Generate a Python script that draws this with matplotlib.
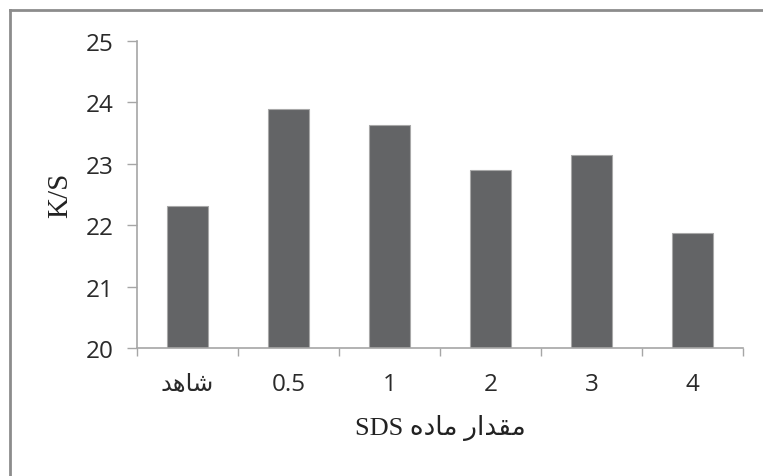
import matplotlib
matplotlib.use("Agg")
import matplotlib.pyplot as plt
from matplotlib.lines import Line2D
import numpy as np

# Data
categories = ["ﺪﻫﺎﺷ", "0.5", "1", "2", "3", "4"]   # شاهد (pre-shaped for display)
values = [22.32, 23.89, 23.64, 22.90, 23.15, 21.88]
yticks = [20, 21, 22, 23, 24, 25]
ylabel = "K/S"
xlabel = "SDS ﻩﺩﺎﻣ ﺭﺍﺪﻘﻣ"   # مقدار ماده SDS (visual order)

W, H = 763, 477
fig = plt.figure(figsize=(W / 100, H / 100), dpi=100)
ax = fig.add_axes([137 / W, 1 - 349 / H, (743 - 137) / W, (349 - 42) / H])

x = np.arange(len(categories))
ax.bar(x, np.array(values) - 20, bottom=20, width=0.4, color="#636466",
       edgecolor="#a8a8a8", linewidth=0.8, zorder=2)

ax.set_xlim(-0.5, len(categories) - 0.5)
ax.set_ylim(20, 25)
ax.set_yticks(yticks)
ax.set_yticklabels([str(t) for t in yticks], family=["Open Sans", "DejaVu Sans"],
                   fontsize=17.5, color="#2a2a2a")
ax.set_xticks(x)
ax.set_xticklabels(categories, family=["Open Sans", "DejaVu Sans"], fontsize=17.5,
                   color="#2a2a2a")
ax.set_xticks(np.arange(-0.5, len(categories)), minor=True)
ax.tick_params(axis="x", which="major", length=0, pad=17)
ax.tick_params(axis="x", which="minor", length=6, width=1, color="#a6a6a6", direction="out")
ax.tick_params(axis="y", which="major", length=7, width=1, color="#a6a6a6", direction="out", pad=10)

for s in ["top", "right"]:
    ax.spines[s].set_visible(False)
for s in ["left", "bottom"]:
    ax.spines[s].set_color("#a6a6a6")
    ax.spines[s].set_linewidth(1.2)

fig.text(60 / W, 1 - 195 / H, ylabel, rotation=90, ha="center", va="center",
         family=["Liberation Serif", "DejaVu Serif"], fontsize=21, color="#222222")
fig.text(440 / W, 1 - 428 / H, xlabel, ha="center", va="center",
         family=["Liberation Serif", "DejaVu Sans"], fontsize=19, color="#222222")

# Outer frame (top and left edges)
fig.add_artist(Line2D([10 / W, 1.0], [1 - 11 / H, 1 - 11 / H], transform=fig.transFigure,
                      color="#8c8c8c", linewidth=2))
fig.add_artist(Line2D([10 / W, 10 / W], [1 - 11 / H, 0.0], transform=fig.transFigure,
                      color="#8c8c8c", linewidth=2))

fig.savefig("out.png", dpi=100)
